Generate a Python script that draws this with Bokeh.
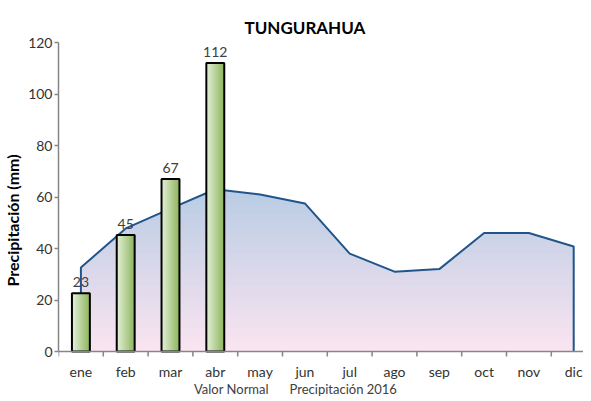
import numpy as np
from bokeh.plotting import figure
from bokeh.models import Range1d, FixedTicker, Legend, LegendItem
from bokeh.core.properties import value
from bokeh.embed import file_html
from bokeh.resources import INLINE

months = ["ene", "feb", "mar", "abr", "may", "jun", "jul", "ago", "sep", "oct", "nov", "dic"]
normal = [32.6, 47.8, 55.5, 63.0, 61.0, 57.5, 38.0, 31.0, 32.0, 46.0, 46.0, 40.8]
precip_months = ["ene", "feb", "mar", "abr"]
precip = [22.6, 45.2, 67.0, 112.0]
y_ticks = [0, 20, 40, 60, 80, 100, 120]

FONT = "Lato"
cat_px = 44.8
frame_w = 525
frame_h = 356
px_per_unit = 309 / 120.0

xs = [months.index(m) + 0.5 for m in months]
px = [months.index(m) + 0.5 for m in precip_months]
bounds = list(range(len(months) + 1))

y_bottom = 120 - frame_h / px_per_unit
p = figure(frame_width=frame_w, frame_height=frame_h, x_range=Range1d(0, frame_w / cat_px),
           y_range=Range1d(y_bottom, 120),
           output_backend="svg", toolbar_location=None,
           min_border_left=50, min_border_right=0, min_border_top=42, min_border_bottom=0)
p.outline_line_color = None
p.grid.visible = False

def hexmix(c1, c2, t):
    r = [int(round(a + (b - a) * t)) for a, b in zip(c1, c2)]
    return "#%02x%02x%02x" % tuple(r)

def clipped(xv, yv, L):
    ox, oy = [], []
    for i in range(len(xv)):
        if i > 0:
            y0, y1 = yv[i - 1], yv[i]
            if (y0 - L) * (y1 - L) < 0:
                t = (L - y0) / (y1 - y0)
                ox.append(xv[i - 1] + t * (xv[i] - xv[i - 1]))
                oy.append(L)
        ox.append(xv[i])
        oy.append(min(yv[i], L))
    return ox, oy

# gradient-filled area, built from horizontal layers
blue = (184, 204, 228)
pink = (251, 228, 240)
top = max(normal)
N = 40
for k in range(N, 0, -1):
    L = top * k / N
    cx, cy = clipped(xs, normal, L)
    t = (L - top / (2 * N)) / top
    p.varea(x=cx, y1=[0] * len(cx), y2=cy, fill_color=hexmix(pink, blue, t))

outline_x = [xs[0]] + xs + [xs[-1]]
outline_y = [0] + normal + [0]
p.line(outline_x, outline_y, line_color="#20558c", line_width=2)

# bars with horizontal gradient
bw = 0.4
S = 10
light = (226, 239, 214)
dark = (146, 184, 100)
for i in range(S):
    off = -bw / 2 + (i + 0.5) * bw / S
    p.vbar(x=[x + off for x in px], top=precip, width=bw / S * 1.4, bottom=0,
           fill_color=hexmix(light, dark, i / (S - 1)), line_color=None)
p.vbar(x=px, top=precip, width=bw, bottom=0, fill_color=None, line_color="black", line_width=2)

p.text(x=px, y=precip, text=[str(int(round(v))) for v in precip], text_align="center",
       text_baseline="bottom", y_offset=-6, text_font=value(FONT), text_font_size="14px",
       text_color="#404040")

# category axis drawn inside the frame
p.segment(x0=[0], y0=[0], x1=[len(months)], y1=[0], line_color="#868686", line_width=1.5)
p.ray(x=bounds, y=[0] * len(bounds), length=5, length_units="screen", angle=-np.pi / 2,
      line_color="#868686", line_width=1.5)
p.text(x=xs, y=[0] * len(xs), text=months, text_align="center", text_baseline="top",
       y_offset=11, text_font=value(FONT), text_font_size="14px", text_color="#333333")
p.xaxis.visible = False

# value axis
p.yaxis.ticker = FixedTicker(ticks=y_ticks)
p.yaxis.bounds = (0, 120)
p.yaxis.minor_tick_line_color = None
p.yaxis.major_tick_out = 4
p.yaxis.major_tick_in = 0
p.yaxis.major_label_standoff = 2
p.yaxis.major_tick_line_color = "#868686"
p.yaxis.major_tick_line_width = 1.5
p.yaxis.axis_line_color = "#868686"
p.yaxis.axis_line_width = 1.5
p.yaxis.major_label_text_font = FONT
p.yaxis.major_label_text_font_size = "14px"
p.yaxis.major_label_text_color = "#333333"
p.yaxis.axis_label = "Precipitación (mm)"
p.yaxis.axis_label_text_font = FONT
p.yaxis.axis_label_text_font_size = "16px"
p.yaxis.axis_label_text_font_style = "bold"
p.yaxis.axis_label_text_color = "black"
p.yaxis.axis_label_standoff = 3

p.title.text = "TUNGURAHUA"
p.title.align = "left"
p.title.offset = 186
p.title.text_font = FONT
p.title.text_font_size = "17px"
p.title.text_font_style = "bold"
p.title.text_color = "black"
p.title.standoff = 10

# legend (inside the frame, below the category labels)
r1 = p.scatter([], [], marker="square", size=9, fill_color="#b8cce4", line_color="#2a5f99", line_width=1.5)
r2 = p.scatter([], [], marker="square", size=9, fill_color="#8db65a", line_color="#1a1a1a", line_width=1.5)
legend = Legend(items=[LegendItem(label="Valor Normal", renderers=[r1]),
                       LegendItem(label="Precipitación 2016", renderers=[r2])],
                orientation="horizontal", location=(125, 1),
                label_text_font=FONT, label_text_font_size="13px", label_text_color="#404040",
                glyph_width=9, glyph_height=9, spacing=10, padding=0, margin=0,
                label_standoff=2, label_height=14, border_line_color=None, background_fill_alpha=0)
p.add_layout(legend, "center")

open("out.html", "w").write(file_html(p, INLINE))
